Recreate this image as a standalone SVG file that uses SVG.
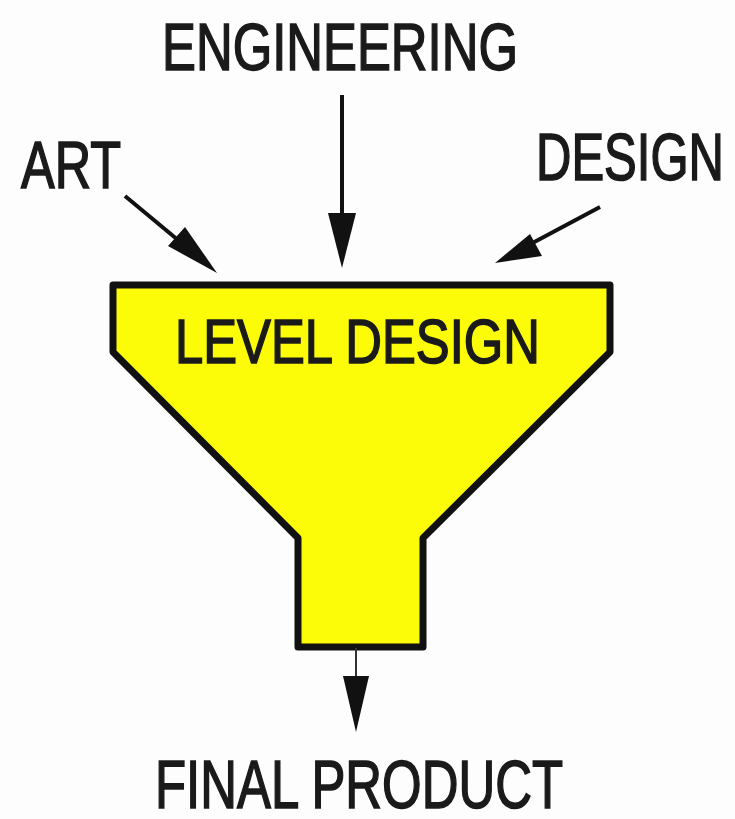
<svg xmlns="http://www.w3.org/2000/svg" width="735" height="819" viewBox="0 0 735 819">
<style>
.lbl{font-family:"Liberation Sans",Arial,sans-serif;font-weight:400;fill:#1a1a1a;stroke:#1a1a1a;stroke-width:1.6}
.ln{stroke:#111;stroke-width:4;fill:none}
.hd{fill:#111}
</style>
<rect width="735" height="819" fill="#fdfdfd"/>
<g id="funnel">
<path d="M113,285 L610,285 L610,352 L423,538 L423,647 L298,647 L298,538 L113,352 Z" fill="#fcfc08" stroke="#111" stroke-width="7" stroke-linejoin="round"/>
<text class="lbl" x="175" y="363" font-size="63" textLength="365" lengthAdjust="spacingAndGlyphs">LEVEL DESIGN</text>
</g>
<g id="engineering">
<text class="lbl" x="162" y="70" font-size="67" textLength="356" lengthAdjust="spacingAndGlyphs">ENGINEERING</text>
</g>
<g id="art">
<text class="lbl" x="21" y="188" font-size="67" textLength="100" lengthAdjust="spacingAndGlyphs">ART</text>
</g>
<g id="design">
<text class="lbl" x="536" y="180" font-size="67" textLength="188" lengthAdjust="spacingAndGlyphs">DESIGN</text>
</g>
<g id="final">
<text class="lbl" x="155" y="808" font-size="68" textLength="408" lengthAdjust="spacingAndGlyphs">FINAL PRODUCT</text>
</g>
<g id="connectors">
<line class="ln" x1="342" y1="95" x2="342" y2="230"/>
<polygon class="hd" points="342,268 328,213 356,213"/>
<line class="ln" x1="125" y1="196" x2="190" y2="250"/>
<polygon class="hd" points="217,273 168,246 185,227"/>
<line class="ln" x1="600" y1="207" x2="525" y2="247"/>
<polygon class="hd" points="495,263 530,234 542,256"/>
<line stroke="#333" stroke-width="2" x1="356" y1="648" x2="356" y2="690"/>
<polygon class="hd" points="356,732 343,676 369,676"/>
</g>
</svg>
